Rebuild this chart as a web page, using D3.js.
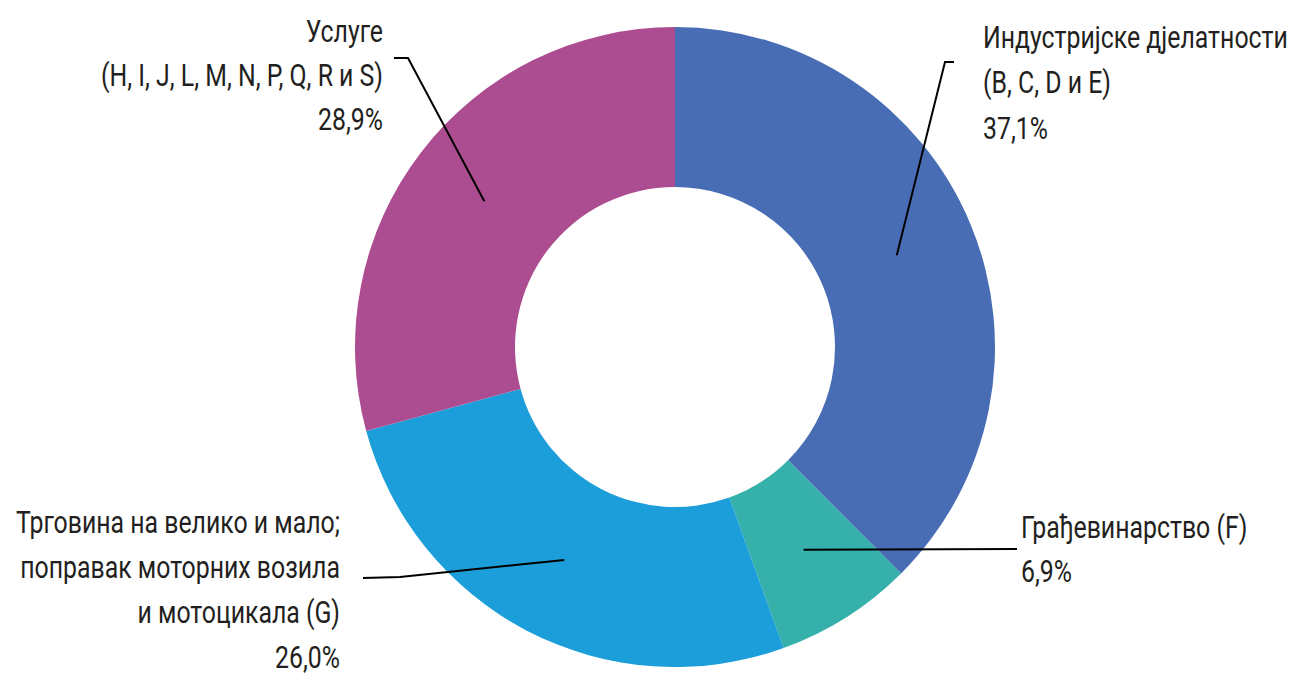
<!DOCTYPE html>
<html>
<head>
<meta charset="utf-8">
<script src="https://cdn.jsdelivr.net/npm/d3@7"></script>
<style>
  body { margin: 0; background: #fff; }
  text { font-family: "Roboto", "Liberation Sans", sans-serif; fill: #231f20; }
</style>
</head>
<body>
<div id="chart"></div>
<script>
// sectors, clockwise from 12 o'clock
var sectors = ['Индустријске дјелатности (B, C, D и E)', 'Грађевинарство (F)',
  'Трговина на велико и мало; поправак моторних возила и мотоцикала (G)',
  'Услуге (H, I, J, L, M, N, P, Q, R и S)'];
var shares = [37.1, 6.9, 26.0, 28.9];
var colors = ['#486db4', '#35b0aa', '#1b9ed9', '#ad4d91'];
var labelLines = [
  ['Индустријске дјелатности', '(B, C, D и E)', '37,1%'],
  ['Грађевинарство (F)', '6,9%'],
  ['Трговина на велико и мало;', 'поправак моторних возила', 'и мотоцикала (G)', '26,0%'],
  ['Услуге', '(H, I, J, L, M, N, P, Q, R и S)', '28,9%']
];

var width = 1294, height = 675;
var cx = 675, cy = 347, outerR = 320, innerR = 160;

var svg = d3.select('#chart').append('svg')
  .attr('width', width)
  .attr('height', height);

var pie = d3.pie().sort(null).value(function(d){ return d; });
var arc = d3.arc().innerRadius(innerR).outerRadius(outerR);
var arcs = pie(shares);

var g = svg.append('g').attr('transform', 'translate(' + cx + ',' + cy + ')');
g.selectAll('path')
  .data(arcs)
  .enter()
  .append('path')
  .attr('d', arc)
  .attr('fill', function(d, i){ return colors[i]; });

// label placement: first baseline, alignment, line step
var labelPos = [
  {x: 983, y: 48, anchor: 'start', step: 45.5},
  {x: 1021, y: 538, anchor: 'start', step: 44},
  {x: 340, y: 533, anchor: 'end', step: 45},
  {x: 383, y: 42, anchor: 'end', step: 44}
];

// leader lines: slice centroid -> elbow -> end
var leaders = [
  {elbow: [945, 62], end: [954, 62]},
  {elbow: [1017, 549], end: [1017, 549]},
  {elbow: [400, 577], end: [363, 578]},
  {elbow: [408, 58], end: [394, 58]}
];

leaders.forEach(function(l, i){
  var c = arc.centroid(arcs[i]);
  svg.append('path')
    .attr('d', d3.line()([[cx + c[0], cy + c[1]], l.elbow, l.end]))
    .attr('fill', 'none')
    .attr('stroke', '#000')
    .attr('stroke-width', 2);
});

// condensed look: squeeze the glyphs horizontally so the widest line fits
var probe = svg.append('text').attr('font-size', '31px').text('Индустријске дјелатности');
var sx = 305 / probe.node().getComputedTextLength();
probe.remove();

labelLines.forEach(function(lines, i){
  var p = labelPos[i];
  var t = svg.append('text')
    .attr('text-anchor', p.anchor)
    .attr('font-size', '31px')
    .attr('transform', 'translate(' + p.x + ',0) scale(' + sx + ',1)');
  lines.forEach(function(s, j){
    t.append('tspan')
      .attr('x', 0)
      .attr('y', p.y + j * p.step)
      .text(s);
  });
});
</script>
</body>
</html>
